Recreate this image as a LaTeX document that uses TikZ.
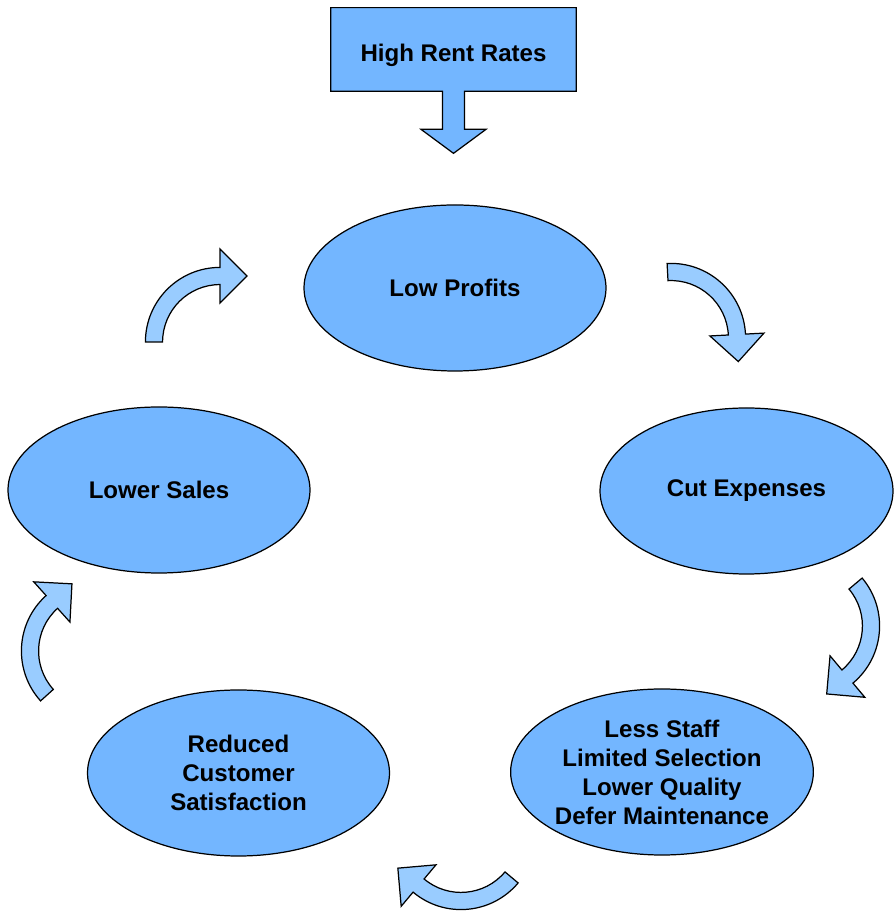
\documentclass[tikz,border=0pt]{standalone}
\usepackage{fontspec}
\setsansfont{Liberation Sans}
\definecolor{stageblue}{HTML}{73B6FF}
\definecolor{turnblue}{HTML}{99CCFF}
\usetikzlibrary{backgrounds}
\usetikzlibrary{calc}
\usetikzlibrary{shapes}

\begin{document}
\begin{tikzpicture}[
		stage/.style={draw,line width=0.7pt,ellipse,fill=stageblue,align=center,inner sep=0pt,minimum width=6.04cm,minimum height=3.32cm,font=\sffamily\bfseries\fontsize{13.7}{16.5}\selectfont},
		callout/.style={inner sep=0pt,text height=0.6cm,text depth=0.1cm,minimum width=4.9cm,minimum height=1.66cm,font=\sffamily\bfseries\fontsize{13.7}{16.5}\selectfont},
		turn/.style={draw,line width=0.7pt,fill=turnblue,line join=miter},
		turn arrow/.pic={
			\draw[turn] (180:0.87) -- (180:1.13) arc[start angle=180,end angle=90,radius=1.13]
				-- (0,1.41) -- (0.41,1) -- (0,0.59) -- (0,0.87)
				arc[start angle=90,end angle=180,radius=0.87] -- cycle;
		}
	]
				\useasboundingbox (0,0) rectangle (17.86,18.22);
				% the cause on top, with its arrow pointing into the cycle
				\node[callout] (RENT) at (9.07,17.23) {High Rent Rates};
				\begin{scope}[on background layer]
					\draw[line width=0.7pt,fill=stageblue] (RENT.south west) |- (RENT.north east) -- (RENT.south east)
						-- ($(RENT.south)+(0.22,0)$) -- ++(0,-0.76) -- ++(0.43,0) -- ($(RENT.south)+(0,-1.24)$)
						-- ($(RENT.south)+(-0.65,-0.76)$) -- ++(0.43,0) -- ($(RENT.south)+(-0.22,0)$) -- cycle;
				\end{scope}
				% the stages of the cycle
				\node[stage] (LOW_PROFITS) at (9.10,12.46) {Low Profits};
				\node[stage,minimum width=5.86cm] (CUT_EXPENSES) at (14.93,8.40) {Cut Expenses};
				\node[stage,minimum width=6.0cm] (LESS_STAFF) at (13.24,2.78) {Less Staff\\Limited Selection\\Lower Quality\\Defer Maintenance};
				\node[stage] (REDUCED_SATISFACTION) at (4.77,2.76) {Reduced\\Customer\\Satisfaction};
				\node[stage] (LOWER_SALES) at (3.18,8.42) {Lower Sales};
				% curved arrows, clockwise
				\pic[scale=1.32] at (4.40,11.38) {turn arrow};
				\pic[scale=1.32,rotate=-87] at (13.42,11.46) {turn arrow};
				\pic[scale=1.32,rotate=-140] at (16.10,5.70) {turn arrow};
				\pic[scale=1.32,rotate=140] at (9.22,1.52) {turn arrow};
				\pic[scale=1.32,rotate=42] at (1.92,5.20) {turn arrow};
			\end{tikzpicture}
\end{document}
